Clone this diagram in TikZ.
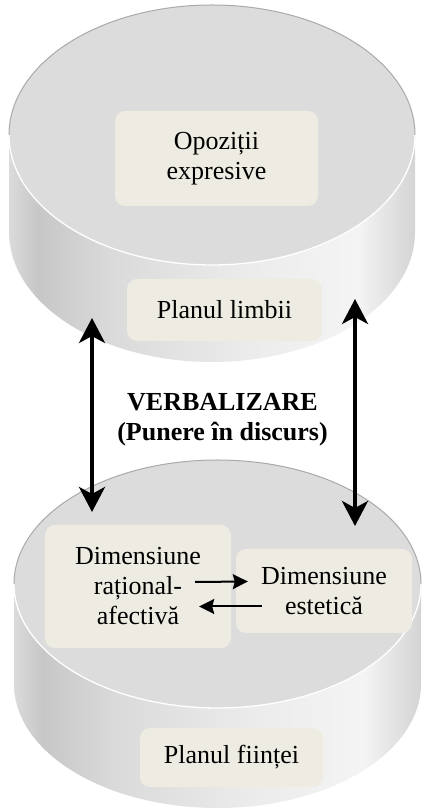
\documentclass[tikz,border=0pt]{standalone}
\usepackage{fontspec}
\setmainfont{Liberation Serif}
\usetikzlibrary{arrows.meta}
\definecolor{topface}{RGB}{220,220,220}
\definecolor{rimgray}{RGB}{170,170,170}
\definecolor{boxfill}{RGB}{238,236,226}
\definecolor{sidea}{RGB}{219,219,219}
\definecolor{sideb}{RGB}{199,199,199}
\definecolor{sidec}{RGB}{218,218,218}
\definecolor{sided}{RGB}{236,236,236}
\definecolor{sidee}{RGB}{244,244,244}
\definecolor{sidef}{RGB}{212,212,212}
\pgfdeclarehorizontalshading{cylside}{100bp}{color(0bp)=(sidea); color(25bp)=(sidea); color(28.5bp)=(sideb); color(37.5bp)=(sidec); color(55bp)=(sided); color(68bp)=(sidee); color(75bp)=(sidef); color(100bp)=(sidef)}
\begin{document}
\begin{tikzpicture}[x=1pt,y=1pt,>=Stealth,
		box/.style={fill=boxfill,rounded corners=10pt,inner sep=0pt,align=center,font=\fontsize{26}{30}\selectfont},
		bigarr/.style={line width=4pt,{Stealth[length=25pt,width=26pt,inset=7pt]}-{Stealth[length=25pt,width=26pt,inset=7pt]}},
		smallarr/.style={line width=2pt,-{Stealth[length=15pt,width=15pt,inset=2pt]}}]
	\useasboundingbox (0,0) rectangle (421,810);
	% the two planes
	\foreach \cx/\cy/\rx/\ry/\h in {212/675/203/130/97,217.5/226/203.5/124/100}{
		\shade[shading=cylside] (\cx-\rx,\cy)--++(0,-\h) arc[start angle=180,end angle=360,x radius=\rx,y radius=\ry]--++(0,\h)--cycle;
		\fill[topface] (\cx,\cy) ellipse[x radius=\rx,y radius=\ry];
		\draw[rimgray,line width=1pt] (\cx+\rx,\cy) arc[start angle=0,end angle=180,x radius=\rx,y radius=\ry];
		\draw[white,line width=1.3pt] (\cx-\rx,\cy) arc[start angle=180,end angle=360,x radius=\rx,y radius=\ry];
	}
	\node[box,minimum width=203,minimum height=95] (op) at (216.5,651.5) {Opoziții\\expresive};
	\node[box,minimum width=195,minimum height=62] (pl) at (224.5,500) {Planul limbii};
	\node[box,minimum width=186,minimum height=123] (ra) at (138,223.5) {Dimensiune\\rațional-\\afectivă};
	\node[box,minimum width=176,minimum height=84] (es) at (324,219) {Dimensiune\\estetică};
	\node[box,minimum width=183,minimum height=59] (pf) at (231.5,52.5) {Planul ființei};
	\node[align=center,font=\fontsize{26}{30}\selectfont\bfseries] (vb) at (222.5,390) {VERBALIZARE\\(Punere în discurs)};
	% verbalizare
	\coordinate (lt) at (92,492);
	\coordinate (lb) at (92,298);
	\coordinate (rt) at (355,511);
	\coordinate (rb) at (355,284);
	\draw[bigarr] (lb)--(lt);
	\draw[bigarr] (rb)--(rt);
	\draw[smallarr] ([shift={(-36pt,4.5pt)}]ra.east)--([shift={(12pt,9.5pt)}]es.west);
	\draw[smallarr] ([shift={(26pt,-15.5pt)}]es.west)--([shift={(-32pt,-20pt)}]ra.east);
\end{tikzpicture}
\end{document}
